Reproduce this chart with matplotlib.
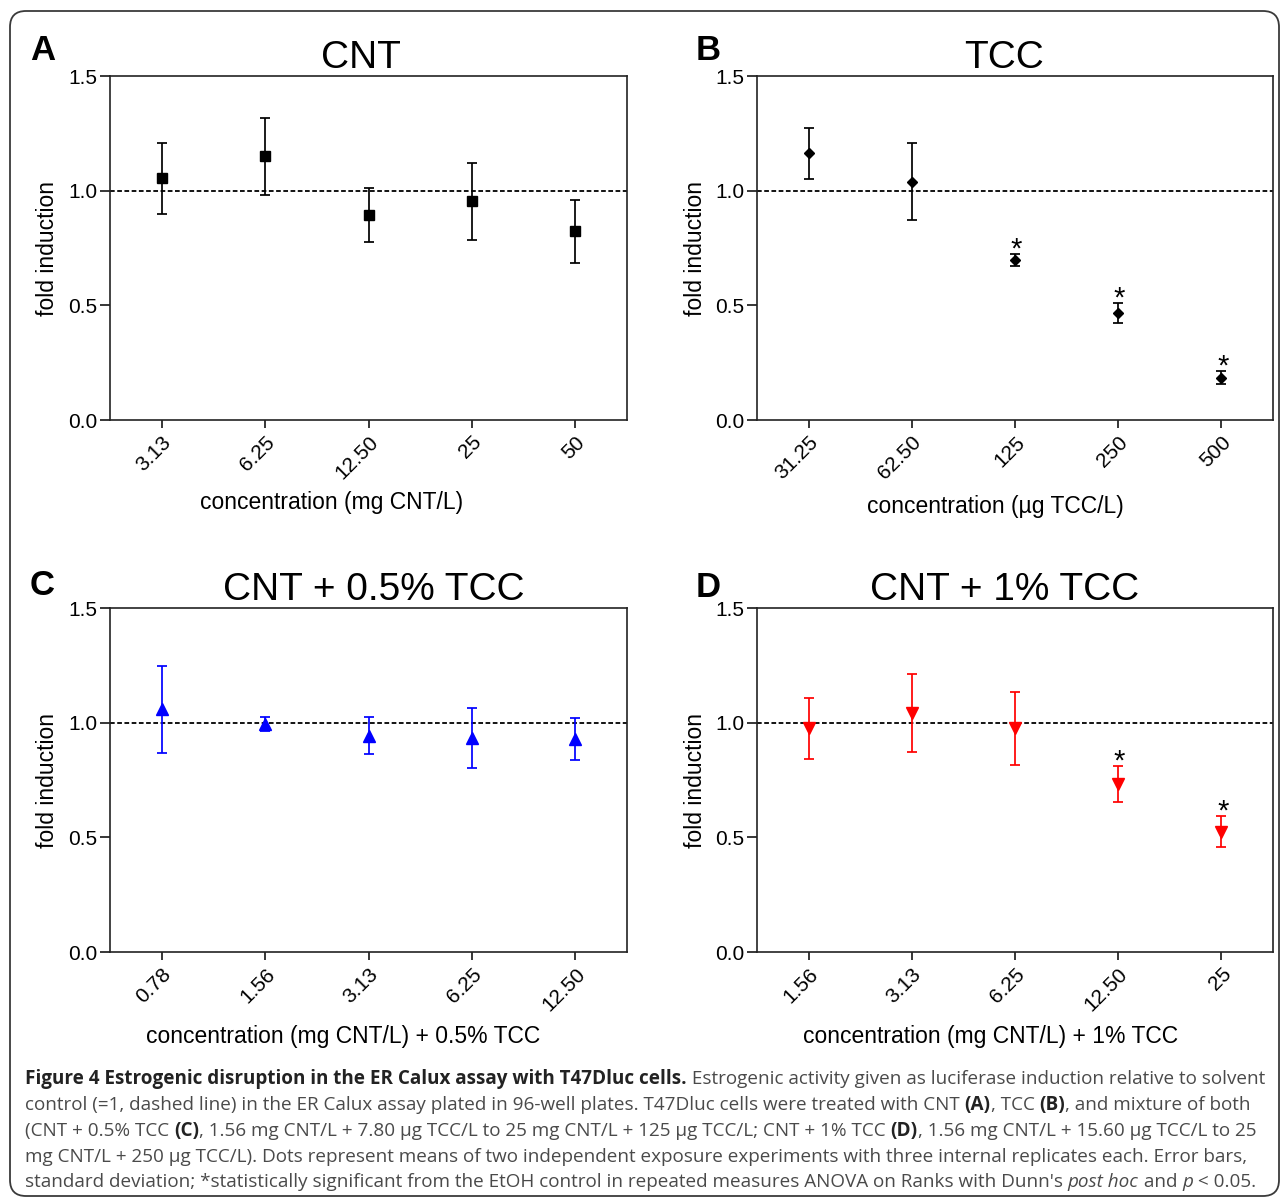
import matplotlib
matplotlib.use("Agg")
import matplotlib.pyplot as plt
from matplotlib.patches import FancyBboxPatch
from matplotlib.ticker import FormatStrFormatter
from matplotlib.font_manager import FontProperties

plt.rcParams["font.family"] = ["Liberation Sans", "DejaVu Sans"]

# data (mean fold induction, SD)
cnt_labels = ["3.13", "6.25", "12.50", "25", "50"]
cnt_mean = [1.054, 1.150, 0.893, 0.954, 0.823]
cnt_sd = [0.156, 0.168, 0.118, 0.168, 0.138]
cnt_sig = [False, False, False, False, False]

tcc_labels = ["31.25", "62.50", "125", "250", "500"]
tcc_mean = [1.164, 1.039, 0.698, 0.467, 0.185]
tcc_sd = [0.111, 0.167, 0.027, 0.042, 0.030]
tcc_sig = [False, False, True, True, True]

mix05_labels = ["0.78", "1.56", "3.13", "6.25", "12.50"]
mix05_mean = [1.058, 0.995, 0.944, 0.933, 0.928]
mix05_sd = [0.190, 0.030, 0.082, 0.132, 0.091]
mix05_sig = [False, False, False, False, False]

mix1_labels = ["1.56", "3.13", "6.25", "12.50", "25"]
mix1_mean = [0.976, 1.043, 0.975, 0.732, 0.525]
mix1_sd = [0.133, 0.171, 0.160, 0.080, 0.067]
mix1_sig = [False, False, False, True, True]

W, H = 1282, 1200
fig = plt.figure(figsize=(W / 100, H / 100), dpi=100)

# rounded frame around the whole figure
frame = FancyBboxPatch((0.10, 0.04), 12.69, 11.85,
                       boxstyle="round,pad=0,rounding_size=0.16",
                       transform=fig.dpi_scale_trans, facecolor="none",
                       edgecolor="#3a3a3a", linewidth=1.3)
fig.patches.append(frame)


def px_axes(left, top, right, bottom):
    return fig.add_axes([left / W, 1 - bottom / H, (right - left) / W, (bottom - top) / H])


panels = [
    dict(rect=(110, 76, 627, 420), title="CNT", tx=0.485, letter="A", lpos=(30, 60),
         labels=cnt_labels, mean=cnt_mean, sd=cnt_sd, sig=cnt_sig,
         marker="s", ms=7.7, color="black", xlabel="concentration (mg CNT/L)", lx=0.429, ly=-0.241),
    dict(rect=(757, 76, 1273, 420), title="TCC", tx=0.479, letter="B", lpos=(696, 60),
         labels=tcc_labels, mean=tcc_mean, sd=tcc_sd, sig=tcc_sig,
         marker="D", ms=5.6, color="black", xlabel="concentration (\u00b5g TCC/L)", lx=0.461, ly=-0.252),
    dict(rect=(110, 608, 627, 952), title="CNT + 0.5% TCC", tx=0.511, letter="C", lpos=(30, 595),
         labels=mix05_labels, mean=mix05_mean, sd=mix05_sd, sig=mix05_sig,
         marker="^", ms=8, color="#0000ff", xlabel="concentration (mg CNT/L) + 0.5% TCC", lx=0.451, ly=-0.247),
    dict(rect=(757, 608, 1273, 952), title="CNT + 1% TCC", tx=0.479, letter="D", lpos=(696, 597),
         labels=mix1_labels, mean=mix1_mean, sd=mix1_sd, sig=mix1_sig,
         marker="v", ms=8, color="#ff0000", xlabel="concentration (mg CNT/L) + 1% TCC", lx=0.452, ly=-0.247),
]

for p in panels:
    ax = px_axes(*p["rect"])
    x = list(range(1, len(p["labels"]) + 1))
    ax.axhline(1.0, color="black", lw=1.3, ls=(0, (2.6, 1.4)), zorder=1)
    ax.errorbar(x, p["mean"], yerr=p["sd"], fmt=p["marker"], ms=p["ms"], color=p["color"],
                ecolor=p["color"], elinewidth=1.25, capsize=3.3, capthick=1.25, zorder=3)
    for xi, m, s, sg in zip(x, p["mean"], p["sd"], p["sig"]):
        if sg:
            ax.annotate("*", xy=(xi, m + s), xytext=(1, -2.5), textcoords="offset points",
                        ha="center", va="baseline", fontsize=21)
    ax.set_xlim(0.5, 5.5)
    ax.set_ylim(0, 1.5)
    ax.set_yticks([0, 0.5, 1.0, 1.5])
    ax.yaxis.set_major_formatter(FormatStrFormatter("%.1f"))
    ax.set_xticks(x)
    ax.set_xticklabels(p["labels"])
    for lbl in ax.get_xticklabels():
        lbl.set_rotation(45)
        lbl.set_ha("right")
        lbl.set_va("top")
        lbl.set_rotation_mode("anchor")
    ax.tick_params(axis="both", labelsize=15, width=1.1, color="black", direction="out")
    ax.tick_params(axis="x", length=6, pad=3)
    ax.tick_params(axis="y", length=7, pad=2)
    for sp in ax.spines.values():
        sp.set_linewidth(1.2)
        sp.set_color("#222222")
    ax.set_title(p["title"], fontsize=28, pad=3.5, x=p["tx"])
    ax.set_ylabel("fold induction", fontsize=16.5)
    ax.yaxis.label.set_va("center")
    ax.yaxis.set_label_coords(-0.12, 0.5)
    ax.set_xlabel(p["xlabel"], fontsize=16.5)
    ax.xaxis.label.set_va("center")
    ax.xaxis.set_label_coords(p["lx"], p["ly"])
    fig.text(p["lpos"][0] / W, 1 - p["lpos"][1] / H, p["letter"], fontsize=25,
             fontweight="bold", va="baseline", ha="left")

# caption, drawn piece by piece so bold / italic runs sit inline
cap_lines = [
    [("Figure 4 Estrogenic disruption in the ER Calux assay with T47Dluc cells.", "b"),
     (" Estrogenic activity given as luciferase induction relative to solvent", "n")],
    [("control (=1, dashed line) in the ER Calux assay plated in 96-well plates. T47Dluc cells were treated with CNT ", "n"),
     ("(A)", "b"), (", TCC ", "n"), ("(B)", "b"), (", and mixture of both", "n")],
    [("(CNT + 0.5% TCC ", "n"), ("(C)", "b"),
     (", 1.56 mg CNT/L + 7.80 \u00b5g TCC/L to 25 mg CNT/L + 125 \u00b5g TCC/L; CNT + 1% TCC ", "n"),
     ("(D)", "b"), (", 1.56 mg CNT/L + 15.60 \u00b5g TCC/L to 25", "n")],
    [("mg CNT/L + 250 \u00b5g TCC/L). Dots represent means of two independent exposure experiments with three internal replicates each. Error bars,", "n")],
    [("standard deviation; *statistically significant from the EtOH control in repeated measures ANOVA on Ranks with Dunn's ", "n"),
     ("post hoc", "i"), (" and ", "n"), ("p", "i"), (" < 0.05.", "n")],
]
cap_base = [1084, 1110, 1136, 1162, 1187]
cap_family = ["Open Sans", "DejaVu Sans"]

renderer = fig.canvas.get_renderer()


def props(style, size):
    return FontProperties(family=cap_family, size=size,
                          weight="bold" if style == "b" else "normal",
                          style="italic" if style == "i" else "normal")


def run_width(text, style, size):
    fp = props(style, size)
    w1 = renderer.get_text_width_height_descent("|" + text + "|", fp, ismath=False)[0]
    w0 = renderer.get_text_width_height_descent("||", fp, ismath=False)[0]
    return w1 - w0


base_size = 12
widest = max(sum(run_width(t, s, base_size) for t, s in line) for line in cap_lines)
cap_size = base_size * 1238 / widest

for line, yb in zip(cap_lines, cap_base):
    xpos = 25
    for text, style in line:
        fig.text(xpos / W, 1 - yb / H, text, fontproperties=props(style, cap_size),
                 color="#222222" if style == "b" else "#4a4a4a", va="baseline", ha="left")
        xpos += run_width(text, style, cap_size)

fig.savefig("out.png", dpi=100)
